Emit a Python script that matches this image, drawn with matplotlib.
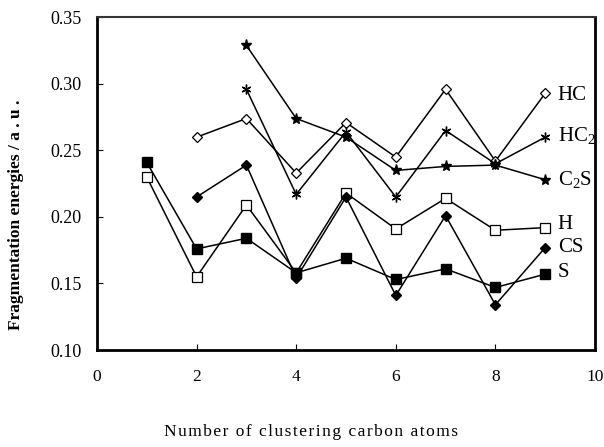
import matplotlib
matplotlib.use("Agg")
import matplotlib.pyplot as plt

plt.rcParams['font.family'] = ['Liberation Serif', 'DejaVu Serif']
plt.rcParams['mathtext.fontset'] = 'custom'
plt.rcParams['mathtext.rm'] = 'Liberation Serif'
plt.rcParams['mathtext.it'] = 'Liberation Serif:italic'
plt.rcParams['mathtext.bf'] = 'Liberation Serif:bold'

x_hc = [2, 3, 4, 5, 6, 7, 8, 9]
hc = [0.260, 0.274, 0.233, 0.271, 0.245, 0.296, 0.242, 0.293]
x_hc2 = [3, 4, 5, 6, 7, 8, 9]
hc2 = [0.296, 0.217, 0.264, 0.215, 0.265, 0.240, 0.260]
x_c2s = [3, 4, 5, 6, 7, 8, 9]
c2s = [0.329, 0.274, 0.260, 0.235, 0.238, 0.239, 0.228]
x_h = [1, 2, 3, 4, 5, 6, 7, 8, 9]
h = [0.230, 0.155, 0.209, 0.158, 0.218, 0.191, 0.214, 0.190, 0.192]
x_cs = [2, 3, 4, 5, 6, 7, 8, 9]
cs = [0.215, 0.239, 0.154, 0.215, 0.141, 0.201, 0.134, 0.177]
x_s = [1, 2, 3, 4, 5, 6, 7, 8, 9]
s = [0.241, 0.176, 0.184, 0.158, 0.169, 0.153, 0.161, 0.147, 0.157]

labels = ["HC", "HC$_\\mathrm{2}$", "C$_\\mathrm{2}$S", "H", "CS", "S"]
label_y = [0.291, 0.261, 0.228, 0.194, 0.177, 0.158]

fig = plt.figure(figsize=(6.04, 4.47), dpi=100)
ax = fig.add_axes([97 / 604, 0.217, 498 / 604, 0.744])

lw = 1.1
ax.plot(x_hc, hc, color='black', lw=lw, marker='D', ms=5, mfc='white', mec='black', mew=0.9)
ax.plot(x_hc2, hc2, color='black', lw=lw, marker=(6, 2, 0), ms=7, mec='black', mew=1.0)
ax.plot(x_c2s, c2s, color='black', lw=lw, marker='*', ms=8, mfc='black', mec='black')
ax.plot(x_h, h, color='black', lw=lw, marker='s', ms=7, mfc='white', mec='black', mew=0.9)
ax.plot(x_cs, cs, color='black', lw=lw, marker='D', ms=5, mfc='black', mec='black')
ax.plot(x_s, s, color='black', lw=lw, marker='s', ms=7, mfc='black', mec='black')

for lab, ly in zip(labels, label_y):
    ax.text(9.25, ly, lab, fontsize=15, va='center', ha='left')

ax.set_xlim(0, 10)
ax.set_ylim(0.10, 0.35)
ax.set_xticks([0, 2, 4, 6, 8, 10])
ax.set_yticks([0.10, 0.15, 0.20, 0.25, 0.30, 0.35])
ax.set_yticklabels(["0.10", "0.15", "0.20", "0.25", "0.30", "0.35"])
ax.tick_params(axis='x', direction='in', length=4, pad=14, labelsize=12.5)
ax.tick_params(axis='y', direction='in', length=4, pad=11, labelsize=13)
ax.tick_params(top=False, right=False)

ax.spines['left'].set_linewidth(2.0)
ax.spines['bottom'].set_linewidth(2.0)
ax.spines['right'].set_linewidth(2.0)
ax.spines['top'].set_linewidth(1.5)
ax.spines['top'].set_color('#333333')

xlabel = "Number of clustering carbon atoms"
spaced = "\u200a".join(xlabel)
fig.text(0.515, 0.033, spaced, ha='center', va='center', fontsize=12.5)
fig.text(0.027, 0.519, "Fragmentation energies / a . u .", rotation=90,
         ha='center', va='center', fontsize=12.5, fontweight='bold')

fig.savefig("out.png", dpi=100)
